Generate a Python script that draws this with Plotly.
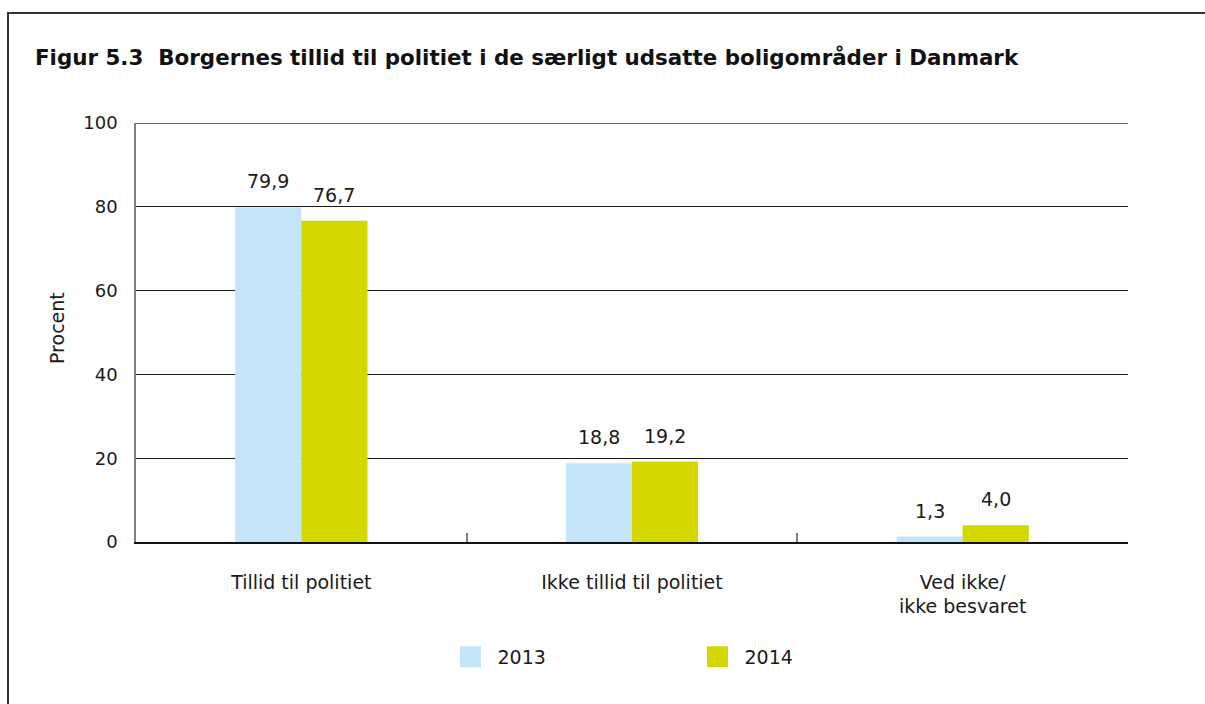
import plotly.graph_objects as go

categories = ["Tillid til politiet", "Ikke tillid til politiet", "Ved ikke/<br>ikke besvaret"]
years = ["2013", "2014"]
values_2013 = [79.9, 18.8, 1.3]
values_2014 = [76.7, 19.2, 4.0]
y_ticks = [0, 20, 40, 60, 80, 100]
title_text = "Figur 5.3  Borgernes tillid til politiet i de særligt udsatte boligområder i Danmark"
y_title = "Procent"

colors = {"2013": "#C4E4F8", "2014": "#D4D800"}
FONT = "DejaVu Sans"
TXT = "#1a1a1a"
W, H = 1205, 704
L, R, T, B = 136, 77, 123, 162
pw, ph = W - L - R, H - T - B

fig = go.Figure()
series = {"2013": values_2013, "2014": values_2014}
for yr in years:
    fig.add_trace(go.Bar(
        x=categories, y=series[yr], name=yr, showlegend=False,
        marker=dict(color=colors[yr], line=dict(width=0)),
    ))
# legend entries (square swatches)
for yr in years:
    fig.add_trace(go.Scatter(
        x=[None], y=[None], mode="markers", name=yr,
        marker=dict(symbol="square", size=16, color=colors[yr],
                    line=dict(color=colors[yr], width=5)),
    ))

# value labels
for yr, shift in (("2013", -33), ("2014", 33)):
    for c, v in zip(categories, series[yr]):
        fig.add_annotation(
            x=c, y=v, xref="x", yref="y", xshift=shift, yshift=26,
            text=f"{v:.1f}".replace(".", ","), showarrow=False,
            font=dict(family=FONT, size=19, color=TXT),
        )

def px_x(p):
    return (p - L) / pw

def px_y(p):
    return (H - B - p) / ph

# y-axis title
fig.add_annotation(
    x=px_x(57), y=px_y(328), xref="paper", yref="paper", text=y_title,
    xanchor="center", yanchor="middle",
    textangle=-90, showarrow=False, font=dict(family=FONT, size=19, color=TXT),
)

# outer frame (left and top edges)
fig.add_shape(type="line", xref="paper", yref="paper",
              x0=px_x(8), x1=px_x(8), y0=px_y(13), y1=px_y(720),
              line=dict(color="#333333", width=2), layer="above")
fig.add_shape(type="line", xref="paper", yref="paper",
              x0=px_x(7), x1=px_x(1230), y0=px_y(13), y1=px_y(13),
              line=dict(color="#333333", width=2), layer="above")
# top line grey
fig.add_shape(type="line", xref="paper", yref="y", x0=0, x1=1, y0=100, y1=100,
              line=dict(color="#707070", width=2), layer="above")

fig.update_layout(
    width=W, height=H,
    margin=dict(l=L, r=R, t=T, b=B, autoexpand=False),
    paper_bgcolor="white", plot_bgcolor="white",
    barmode="group", bargap=0.6, bargroupgap=0,
    font=dict(family=FONT, size=19, color=TXT),
    title=dict(text=f"<b>{title_text}</b>", x=35 / W, xanchor="left", xref="container",
               y=1 - 58 / H, yanchor="middle", yref="container",
               font=dict(family=FONT, size=21.4, color="#111")),
    legend=dict(orientation="h", x=px_x(443.5), xanchor="left", y=px_y(657), yanchor="middle",
                entrywidth=188, entrywidthmode="pixels", itemwidth=44,
                font=dict(family=FONT, size=19, color=TXT), itemclick=False),
    xaxis=dict(type="category", showline=True, linecolor="#111", linewidth=1.5,
               ticks="inside", tickson="boundaries", ticklen=9, tickcolor="#808080", tickwidth=2,
               showgrid=False, ticklabelstandoff=22,
               tickfont=dict(family=FONT, size=19, color=TXT)),
    yaxis=dict(range=[0, 100], tickvals=y_ticks, showgrid=True, gridcolor="#1a1a1a", gridwidth=1,
               showline=True, linecolor="#808080", linewidth=1.5, zeroline=False,
               ticks="", ticklabelstandoff=13,
               tickfont=dict(family=FONT, size=18, color=TXT)),
)

fig.write_html(
    "out.html",
    config={"displayModeBar": False},
    post_script="document.body.style.margin='0';document.body.style.overflow='hidden';",
)
